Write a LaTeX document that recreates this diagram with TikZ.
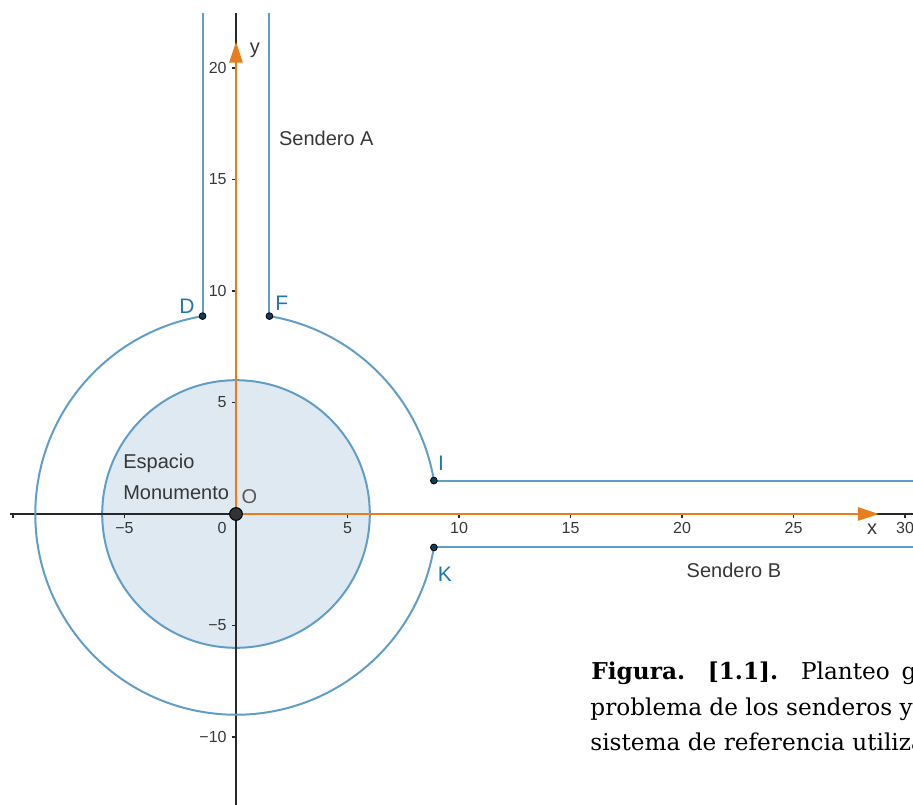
\documentclass[tikz,border=0pt]{standalone}
\usepackage{fontspec}
\setmainfont{Liberation Sans}
\newfontfamily\capfont{DejaVu Serif}
\usetikzlibrary{arrows.meta}
\definecolor{trail}{RGB}{97,158,199}
\definecolor{trailtext}{RGB}{31,119,170}
\definecolor{areafill}{RGB}{222,233,241}
\definecolor{axisorange}{RGB}{232,125,30}
\definecolor{axisgray}{RGB}{40,40,40}
\definecolor{labelgray}{RGB}{55,55,55}
\definecolor{dotfill}{RGB}{20,60,90}
\tikzset{
  trailline/.style={draw=trail, line width=1pt},
  axisline/.style={draw=axisgray, line width=0.7pt},
  ticklbl/.style={font=\fontsize{8pt}{9pt}\selectfont, text=labelgray, inner sep=0pt},
  ptlbl/.style={font=\fontsize{10.5pt}{12pt}\selectfont, text=trailtext, inner sep=0pt},
  txtlbl/.style={font=\fontsize{10pt}{12pt}\selectfont, text=labelgray, inner sep=0pt},
  orangearrow/.style={draw=axisorange, line width=1.4pt, -{Triangle[length=10.5pt,width=6.5pt]}},
  ptdot/.style={circle, fill=dotfill, draw=black, line width=0.4pt, inner sep=0pt, minimum size=3.4pt},
  capline/.style={anchor=base west, inner sep=0pt, font=\capfont\fontsize{11.6pt}{14pt}\selectfont}
}
\begin{document}
\begin{tikzpicture}[x=11.15pt,y=11.15pt]
\useasboundingbox (-118pt,-145pt) rectangle (338.5pt,257pt);
% key points
\coordinate (O) at (0,0);
\coordinate (D) at (-1.5,8.874);
\coordinate (F) at (1.5,8.874);
\coordinate (I) at (8.874,1.5);
\coordinate (K) at (8.874,-1.5);
\coordinate (Dtop) at (-1.5,22.47);
\coordinate (Ftop) at (1.5,22.47);
\coordinate (Iend) at (30.5,1.5);
\coordinate (Kend) at (30.5,-1.5);
\coordinate (xL) at (-10.13,0);
\coordinate (xR) at (30.5,0);
\coordinate (yT) at (0,22.47);
\coordinate (yB) at (0,-13.2);
\coordinate (xTip) at (28.83,0);
\coordinate (yTip) at (0,21.18);
% monument area
\fill[areafill] (O) circle[radius=6];
\draw[trailline] (O) circle[radius=6];
% axes
\draw[axisline] (xL) -- (xR);
\draw[axisline] (yB) -- (yT);
\foreach \t in {-10,-5,5,10,15,20,25,30}
  \draw[axisgray, line width=0.6pt] (\t,0) -- ++(0,-2pt);
\foreach \t in {-10,-5,5,10,15,20}
  \draw[axisgray, line width=0.6pt] (0,\t) -- ++(-2pt,0);
% x tick labels
\foreach \t/\l in {-5/−5,5/5,10/10,15/15,20/20,25/25,30/30}
  \node[ticklbl] (xt\t) at ([yshift=-7pt]\t,0) {\l};
\node[ticklbl] (xt0) at ([yshift=-7pt]-0.62,0) {0};
% y tick labels
\foreach \t/\l in {-10/−10,-5/−5,5/5,10/10,15/15,20/20}
  \node[ticklbl, anchor=east] (yt\t) at ([xshift=-4.5pt]0,\t) {\l};
% orange axes
\draw[orangearrow] (O) -- (xTip);
\draw[orangearrow] (O) -- (yTip);
% trails
\draw[trailline] (D) -- (Dtop);
\draw[trailline] (F) -- (Ftop);
\draw[trailline] (I) -- (Iend);
\draw[trailline] (K) -- (Kend);
\draw[trailline] (F) arc[start angle=80.41, end angle=9.59, radius=9];
\draw[trailline] (K) arc[start angle=-9.59, end angle=-260.41, radius=9];
% points
\node[ptdot] (dD) at (D) {};
\node[ptdot] (dF) at (F) {};
\node[ptdot] (dI) at (I) {};
\node[ptdot] (dK) at (K) {};
\node[circle, fill=black!80, draw=black, line width=0.5pt, inner sep=0pt, minimum size=6.4pt] (dO) at (O) {};
% point labels
\node[ptlbl] (lD) at (-2.2,9.33) {D};
\node[ptlbl] (lF) at (2.05,9.46) {F};
\node[ptlbl] (lI) at (9.2,2.29) {I};
\node[ptlbl] (lK) at (9.37,-2.69) {K};
\node[txtlbl, text=black!65] (lO) at (0.6,0.8) {O};
% axis names
\node[txtlbl] (lx) at (28.52,-0.66) {x};
\node[txtlbl] (ly) at (0.85,20.78) {y};
% texts
\node[txtlbl] (sA) at (4.05,16.86) {Sendero A};
\node[txtlbl] (sB) at (22.33,-2.51) {Sendero B};
\node[txtlbl, anchor=west] (esp) at (-5.07,2.29) {Espacio};
\node[txtlbl, anchor=west] (mon) at (-5.07,0.94) {Monumento};
% caption
\node[capline] (cap1) at (177.5pt,-82.5pt) {\makebox[162.5pt][s]{\textbf{Figura.} \textbf{[1.1].} Planteo g}};
\node[capline] (cap2) at (177pt,-100.5pt) {problema de los senderos y};
\node[capline] (cap3) at (177pt,-118pt) {sistema de referencia utiliza};
\end{tikzpicture}
\end{document}
